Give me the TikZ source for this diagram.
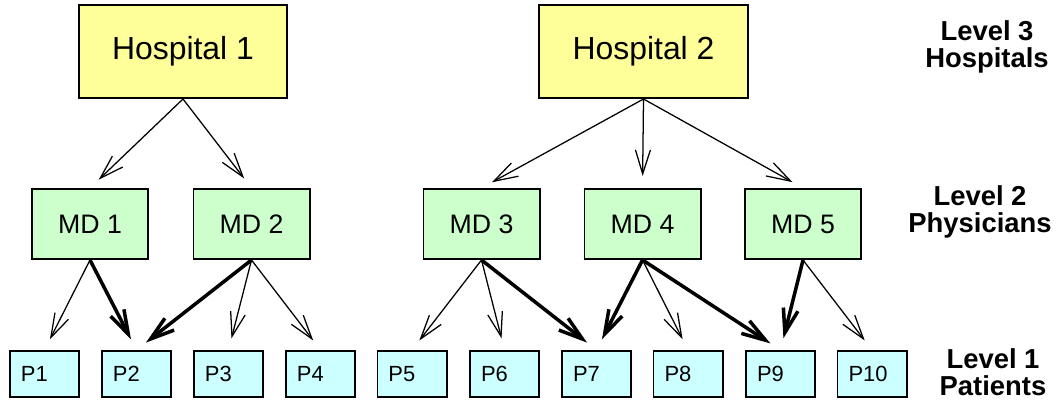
\documentclass[tikz,border=0pt]{standalone}
\usepackage{fontspec}
\setmainfont{Liberation Sans}
\usetikzlibrary{arrows.meta}
\definecolor{hospyellow}{RGB}{255,255,153}
\definecolor{docgreen}{RGB}{204,255,204}
\definecolor{patcyan}{RGB}{204,255,255}

\begin{document}
\begin{tikzpicture}[x=0.025cm, y=-0.025cm,
        hosp/.style={draw, line width=1.4pt, fill=hospyellow, minimum width=5.2cm,
            minimum height=2.325cm, font=\fontsize{22.7}{26}\selectfont},
        doc/.style={draw, line width=1.4pt, fill=docgreen, minimum width=2.9cm,
            minimum height=1.75cm, font=\fontsize{19}{22}\selectfont},
        pat/.style={draw, line width=1.4pt, fill=patcyan, inner xsep=0.275cm,
            text width=1.175cm, align=left, minimum height=1.15cm,
            font=\fontsize{15.6}{18}\selectfont},
        lvl/.style={align=center, font=\bfseries\fontsize{19.5}{19.5}\selectfont},
        link/.style={line width=0.9pt, shorten >=0.3cm,
            -{Straight Barb[length=0.6cm, width=0.375cm]}},
        strong/.style={link, line width=2.5pt}]
    \useasboundingbox (0, 0) rectangle (1057, 400);

    % level 3
    \node[hosp] (h1) at (183, 51.5) {Hospital 1};
    \node[hosp] (h2) at (643.5, 51.5) {Hospital 2};

    % level 2
    \node[doc] (md1) at (90, 224) {MD 1};
    \node[doc] (md2) at (251.5, 224) {MD 2};
    \node[doc] (md3) at (481.5, 224) {MD 3};
    \node[doc] (md4) at (642.5, 224) {MD 4};
    \node[doc] (md5) at (803, 224) {MD 5};

    % level 1
    \node[pat] (p1) at (44.5, 374) {P1};
    \node[pat] (p2) at (136.5, 374) {P2};
    \node[pat] (p3) at (228.5, 374) {P3};
    \node[pat] (p4) at (320.5, 374) {P4};
    \node[pat] (p5) at (412, 374) {P5};
    \node[pat] (p6) at (504.5, 374) {P6};
    \node[pat] (p7) at (596.5, 374) {P7};
    \node[pat] (p8) at (688, 374) {P8};
    \node[pat] (p9) at (780.5, 374) {P9};
    \node[pat] (p10) at (872, 374) {P10};

    % level names
    \node[lvl] (lev3) at (987, 47) {Level 3\\Hospitals};
    \node[lvl] (lev2) at (980, 212) {Level 2\\Physicians};
    \node[lvl] (lev1) at (993, 372) {Level 1\\Patients};

    % hospitals to physicians
    \draw[link] (h1.south) -- (md1.north);
    \draw[link] (h1.south) -- (md2.north);
    \draw[link] (h2.south) -- (md3.north);
    \draw[link] (h2.south) -- (md4.north);
    \draw[link] (h2.south) -- (md5.north);

    % physicians to patients
    \draw[link] (md1.south) -- (p1.north);
    \draw[strong] (md1.south) -- (p2.north);
    \draw[strong] (md2.south) -- (p2.north);
    \draw[link] (md2.south) -- (p3.north);
    \draw[link] (md2.south) -- (p4.north);
    \draw[link] (md3.south) -- (p5.north);
    \draw[link] (md3.south) -- (p6.north);
    \draw[strong] (md3.south) -- (p7.north);
    \draw[strong] (md4.south) -- (p7.north);
    \draw[link] (md4.south) -- (p8.north);
    \draw[strong] (md4.south) -- (p9.north);
    \draw[strong] (md5.south) -- (p9.north);
    \draw[link] (md5.south) -- (p10.north);
\end{tikzpicture}
\end{document}
